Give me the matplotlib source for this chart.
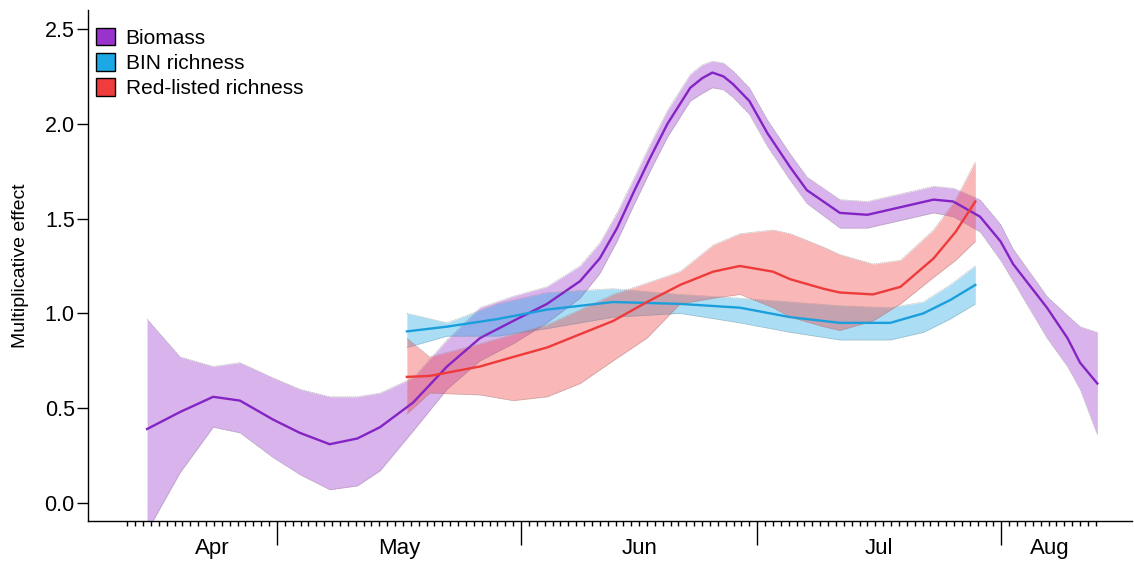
import matplotlib
matplotlib.use("Agg")
import matplotlib.pyplot as plt
import matplotlib.transforms as mtransforms
from matplotlib.patches import Patch
import numpy as np

plt.rcParams['font.family'] = ['Liberation Sans', 'DejaVu Sans']

# days counted from 1 April (Apr 1 = 0)
bio_day = [13.5, 17.7, 21.9, 25.3, 29.5, 32.9, 36.7, 40.2, 43.1, 47.3, 51.6, 55.8, 60.0,
           64.3, 68.5, 71.0, 73.2, 75.2, 77.4, 79.6, 82.5, 84.0, 85.3, 86.7, 87.9, 90.0,
           92.3, 95.2, 97.3, 101.5, 105.0, 109.2, 113.4, 115.9, 119.3, 121.9, 123.5, 127.8,
           130.4, 132.0, 134.2]
bio_mean = [0.39, 0.48, 0.56, 0.54, 0.44, 0.37, 0.31, 0.34, 0.40, 0.53, 0.72, 0.87, 0.96,
            1.05, 1.17, 1.29, 1.45, 1.63, 1.82, 2.00, 2.19, 2.24, 2.27, 2.25, 2.21, 2.12,
            1.95, 1.77, 1.65, 1.53, 1.52, 1.56, 1.60, 1.59, 1.51, 1.38, 1.26, 1.03,
            0.87, 0.74, 0.63]
bio_up = [0.97, 0.77, 0.72, 0.74, 0.66, 0.60, 0.56, 0.56, 0.58, 0.66, 0.86, 1.03, 1.09,
          1.14, 1.25, 1.37, 1.53, 1.70, 1.89, 2.07, 2.26, 2.31, 2.33, 2.32, 2.28, 2.19,
          2.02, 1.84, 1.72, 1.60, 1.59, 1.63, 1.67, 1.66, 1.60, 1.47, 1.34, 1.09,
          0.99, 0.93, 0.90]
bio_low = [-0.15, 0.16, 0.40, 0.37, 0.24, 0.15, 0.07, 0.09, 0.17, 0.38, 0.60, 0.75, 0.84,
           0.95, 1.08, 1.21, 1.38, 1.56, 1.75, 1.93, 2.12, 2.16, 2.19, 2.18, 2.14, 2.05,
           1.88, 1.70, 1.58, 1.45, 1.45, 1.49, 1.53, 1.51, 1.43, 1.28, 1.17, 0.87,
           0.72, 0.60, 0.36]

bin_day = [46.5, 51.6, 58.0, 64.3, 72.7, 81.2, 88.8, 95.2, 101.5, 107.9, 112.1, 115.5, 118.7]
bin_mean = [0.905, 0.93, 0.97, 1.02, 1.06, 1.05, 1.03, 0.98, 0.95, 0.95, 1.00, 1.07, 1.15]
bin_up = [1.00, 0.95, 1.05, 1.11, 1.13, 1.10, 1.08, 1.06, 1.04, 1.03, 1.06, 1.15, 1.25]
bin_low = [0.82, 0.88, 0.88, 0.92, 0.98, 1.00, 0.95, 0.90, 0.86, 0.86, 0.90, 0.97, 1.05]

red_day = [46.5, 49.4, 55.8, 60.0, 64.3, 68.5, 72.7, 77.0, 81.2, 85.4, 88.8, 93.0, 95.2,
           99.4, 101.5, 105.7, 109.2, 113.4, 116.2, 118.7]
red_mean = [0.665, 0.67, 0.72, 0.77, 0.82, 0.89, 0.96, 1.06, 1.15, 1.22, 1.25, 1.22, 1.18,
            1.13, 1.11, 1.10, 1.14, 1.29, 1.43, 1.59]
red_up = [0.87, 0.77, 0.84, 0.89, 0.94, 1.02, 1.10, 1.16, 1.22, 1.36, 1.42, 1.44, 1.42,
          1.35, 1.31, 1.26, 1.28, 1.44, 1.60, 1.80]
red_low = [0.47, 0.58, 0.57, 0.54, 0.56, 0.63, 0.75, 0.87, 1.05, 1.08, 1.10, 1.03, 0.98,
           0.93, 0.91, 0.96, 1.05, 1.19, 1.28, 1.38]

month_names = ['Apr', 'May', 'Jun', 'Jul', 'Aug']
month_starts = [0, 30, 61, 91, 122, 153]
tick_days = np.arange(11, 135)

series = [
    ('Biomass', bio_day, bio_mean, bio_up, bio_low, '#9933cc', '#8424c4'),
    ('BIN richness', bin_day, bin_mean, bin_up, bin_low, '#1ca8e4', '#1a9fdc'),
    ('Red-listed richness', red_day, red_mean, red_up, red_low, '#f03c3c', '#ee3a3a'),
]

fig = plt.figure(figsize=(11.34, 5.65), dpi=100)
ax = fig.add_axes([88 / 1134, 1 - 521 / 565, (1132 - 88) / 1134, (521 - 10) / 565])

handles = []
for name, d, m, up, lo, fill_c, line_c in series:
    ax.fill_between(d, lo, up, color=fill_c, alpha=0.37, linewidth=0)
    ax.plot(d, up, color='#888888', lw=0.5, ls=(0, (2, 1)), alpha=0.6)
    ax.plot(d, lo, color='#888888', lw=0.5, ls=(0, (2, 1)), alpha=0.6)
    ax.plot(d, m, color=line_c, lw=1.7, solid_joinstyle='round')
    handles.append(Patch(facecolor=fill_c, edgecolor='black', linewidth=1.0, label=name))

ax.set_xlim(6.0, 138.6)
ax.set_ylim(-0.095, 2.6)

ax.spines['top'].set_visible(False)
ax.spines['right'].set_visible(False)
ax.spines['left'].set_linewidth(1.0)
ax.spines['bottom'].set_linewidth(1.0)

ax.set_yticks([0.0, 0.5, 1.0, 1.5, 2.0, 2.5])
ax.set_yticklabels(['0.0', '0.5', '1.0', '1.5', '2.0', '2.5'], fontsize=15.5)
ax.tick_params(axis='y', direction='out', length=8, width=1.0, pad=1.5)
ax.set_ylabel('Multiplicative effect', fontsize=14, labelpad=11)

ax.set_xticks(month_starts[1:5])
ax.set_xticklabels([])
ax.set_xticks(tick_days, minor=True)
ax.tick_params(axis='x', which='major', direction='out', length=17, width=1.0)
ax.tick_params(axis='x', which='minor', direction='out', length=3.5, width=1.0)

trans = mtransforms.blended_transform_factory(ax.transData, ax.transAxes)
lo_lim, hi_lim = bio_day[0], bio_day[-1]
for i, name in enumerate(month_names):
    a = max(month_starts[i], lo_lim)
    b = min(month_starts[i + 1], hi_lim)
    ax.text((a + b) / 2, -0.054, name, transform=trans, ha='center', va='center', fontsize=16)

ax.legend(handles=handles, loc='upper left', bbox_to_anchor=(0.0077, 0.965), frameon=False,
          fontsize=15, handlelength=0.92, handleheight=0.92, handletextpad=0.5,
          labelspacing=0.25, borderpad=0, borderaxespad=0)

fig.savefig('out.png', dpi=100)
